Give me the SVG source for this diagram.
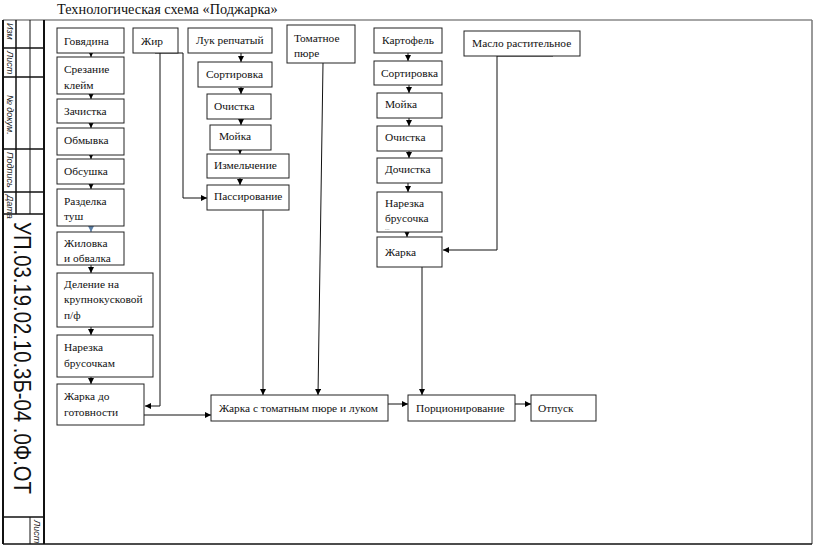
<svg xmlns="http://www.w3.org/2000/svg" width="816" height="546" viewBox="0 0 816 546">
<defs>
<marker id="ah" viewBox="0 0 6 6" refX="6" refY="3" markerWidth="6" markerHeight="6" markerUnits="userSpaceOnUse" orient="auto"><path d="M0,0 L6,3 L0,6 z" fill="#000"/></marker>
<marker id="ahb" viewBox="0 0 6 6" refX="6" refY="3" markerWidth="6" markerHeight="6" markerUnits="userSpaceOnUse" orient="auto"><path d="M0,0 L6,3 L0,6 z" fill="#5b7fa6"/></marker>
<style>
.n rect{fill:#fff;stroke:#222;stroke-width:1}
.n text,.t{font-family:"Liberation Serif","Times New Roman",serif;font-size:11.4px;fill:#111}
.c line,.c polyline{fill:none;stroke:#111;stroke-width:1;marker-end:url(#ah)}
.c .p{marker-end:none}
.f{stroke:#111;fill:none}
.s{font-family:"Liberation Sans",Arial,sans-serif;font-style:italic;font-size:9px;fill:#222}
</style>
</defs>
<rect width="816" height="546" fill="#fff"/>
<text class="t" x="57" y="14" style="font-size:14.3px">Технологическая схема «Поджарка»</text>
<g id="frame">
<line class="f" x1="3" y1="20" x2="812" y2="20" style="stroke:#888;stroke-width:1.5"/>
<line class="f" x1="812" y1="20" x2="812" y2="544" style="stroke:#777;stroke-width:1.5"/>
<line class="f" x1="3" y1="544" x2="812" y2="544" style="stroke-width:1.5"/>
<line class="f" x1="3" y1="20" x2="3" y2="544" style="stroke-width:2"/>
<line class="f" x1="44" y1="20" x2="44" y2="544" style="stroke-width:2"/>
<line class="f" x1="16" y1="20" x2="16" y2="214" style="stroke-width:1.5"/>
<line class="f" x1="30" y1="20" x2="30" y2="214" style="stroke-width:1"/>
<line class="f" x1="30" y1="517" x2="30" y2="544" style="stroke-width:1"/>
<line class="f" x1="3" y1="48" x2="44" y2="48" style="stroke-width:1.5"/>
<line class="f" x1="3" y1="77" x2="44" y2="77" style="stroke-width:1.5"/>
<line class="f" x1="3" y1="149" x2="44" y2="149" style="stroke-width:1.5"/>
<line class="f" x1="3" y1="192" x2="44" y2="192" style="stroke-width:1.5"/>
<line class="f" x1="3" y1="214" x2="44" y2="214" style="stroke-width:1.5"/>
<line class="f" x1="3" y1="517" x2="44" y2="517" style="stroke-width:1.5"/>
<text class="s" transform="translate(7,23) rotate(90)">Изм</text>
<text class="s" transform="translate(7,51) rotate(90)">Лист</text>
<text class="s" transform="translate(7,95) rotate(90)">№ докум.</text>
<text class="s" transform="translate(7,152) rotate(90)">Подпись</text>
<text class="s" transform="translate(7,195) rotate(90)">Дата</text>
<text class="s" transform="translate(34,520) rotate(90)">Лист</text>
<text transform="translate(14,222) rotate(90)" font-family="Liberation Sans, Arial, sans-serif" font-size="24" fill="#111" textLength="272" lengthAdjust="spacingAndGlyphs">УП.03.19.02.10.3Б-04 .0Ф.ОТ</text>
</g>
<g class="c" id="connectors">
<line x1="91" y1="53" x2="91" y2="57"/>
<line x1="91" y1="94" x2="91" y2="99"/>
<line x1="91" y1="123" x2="91" y2="128"/>
<line x1="91" y1="155" x2="91" y2="159"/>
<line x1="91" y1="184" x2="91" y2="189"/>
<line x1="91" y1="226" x2="91" y2="232" style="stroke:#5b7fa6;marker-end:url(#ahb)"/>
<line x1="91" y1="265" x2="91" y2="273"/>
<line x1="91" y1="327" x2="91" y2="335"/>
<line x1="91" y1="377" x2="91" y2="384"/>
<line class="p" x1="155" y1="53" x2="183" y2="53"/>
<polyline points="160,53 160,406 145,406"/>
<polyline points="183,53 183,198 207,198"/>
<line x1="241" y1="53" x2="241" y2="62"/>
<line x1="241" y1="87" x2="241" y2="94"/>
<line x1="241" y1="119" x2="241" y2="125"/>
<line x1="240" y1="150" x2="240" y2="154"/>
<line x1="240" y1="178" x2="240" y2="185"/>
<line x1="263" y1="210" x2="263" y2="395"/>
<line x1="323" y1="63" x2="318" y2="395"/>
<line x1="408" y1="53" x2="408" y2="61"/>
<line x1="409" y1="85" x2="409" y2="93"/>
<line x1="409" y1="118" x2="409" y2="126"/>
<line x1="409" y1="151" x2="409" y2="158"/>
<line x1="408" y1="183" x2="408" y2="192"/>
<line x1="407" y1="232" x2="407" y2="237"/>
<line class="p" x1="497" y1="56" x2="553" y2="56"/>
<polyline points="497,56 497,250 443,250"/>
<line x1="422" y1="267" x2="422" y2="395"/>
<line x1="144" y1="415" x2="211" y2="415"/>
<line x1="388" y1="404" x2="408" y2="404"/>
<line x1="515" y1="404" x2="531" y2="404"/>
</g>
<g class="n" id="n-govyadina"><rect x="57" y="28" width="67" height="25"/><text x="64" y="45">Говядина</text></g>
<g class="n" id="n-srezanie"><rect x="57" y="57" width="67" height="37"/><text x="64" y="73">Срезание</text><text x="64" y="89">клейм</text></g>
<g class="n" id="n-zachistka"><rect x="57" y="99" width="67" height="24"/><text x="64" y="115">Зачистка</text></g>
<g class="n" id="n-obmyvka"><rect x="57" y="128" width="67" height="27"/><text x="64" y="144">Обмывка</text></g>
<g class="n" id="n-obsushka"><rect x="57" y="159" width="67" height="25"/><text x="64" y="175">Обсушка</text></g>
<g class="n" id="n-razdelka"><rect x="57" y="189" width="67" height="37"/><text x="64" y="205">Разделка</text><text x="64" y="220">туш</text></g>
<g class="n" id="n-zhilovka"><rect x="57" y="232" width="67" height="33"/><text x="64" y="247">Жиловка</text><text x="64" y="262">и обвалка</text></g>
<g class="n" id="n-delenie"><rect x="57" y="273" width="96" height="54"/><text x="64" y="288">Деление на</text><text x="64" y="303">крупнокусковой</text><text x="64" y="319">п/ф</text></g>
<g class="n" id="n-narezka1"><rect x="57" y="335" width="96" height="42"/><text x="64" y="351">Нарезка</text><text x="64" y="367">брусочкам</text></g>
<g class="n" id="n-zharka1"><rect x="57" y="384" width="87" height="41"/><text x="64" y="400">Жарка до</text><text x="64" y="416">готовности</text></g>
<g class="n" id="n-zhir"><rect x="133" y="28" width="45" height="25"/><text x="141" y="45">Жир</text></g>
<g class="n" id="n-luk"><rect x="188" y="28" width="84" height="25"/><text x="196" y="44">Лук репчатый</text></g>
<g class="n" id="n-sort1"><rect x="198" y="62" width="74" height="25"/><text x="206" y="78">Сортировка</text></g>
<g class="n" id="n-ochistka1"><rect x="207" y="94" width="64" height="25"/><text x="214" y="110">Очистка</text></g>
<g class="n" id="n-moyka1"><rect x="210" y="125" width="61" height="25"/><text x="219" y="140">Мойка</text></g>
<g class="n" id="n-izmel"><rect x="207" y="154" width="82" height="24"/><text x="214" y="169">Измельчение</text></g>
<g class="n" id="n-passir"><rect x="207" y="185" width="82" height="25"/><text x="214" y="200">Пассирование</text></g>
<g class="n" id="n-tomat"><rect x="287" y="25" width="68" height="38"/><text x="294" y="42">Томатное</text><text x="294" y="57">пюре</text></g>
<g class="n" id="n-kartofel"><rect x="374" y="28" width="68" height="25"/><text x="382" y="44">Картофель</text></g>
<g class="n" id="n-sort2"><rect x="374" y="61" width="68" height="24"/><text x="381" y="77">Сортировка</text></g>
<g class="n" id="n-moyka2"><rect x="377" y="93" width="65" height="25"/><text x="385" y="108">Мойка</text></g>
<g class="n" id="n-ochistka2"><rect x="377" y="126" width="65" height="25"/><text x="385" y="141">Очистка</text></g>
<g class="n" id="n-dochistka"><rect x="377" y="158" width="65" height="25"/><text x="385" y="173">Дочистка</text></g>
<g class="n" id="n-narezka2"><rect x="377" y="192" width="65" height="40"/><text x="385" y="207">Нарезка</text><text x="385" y="222">брусочка</text><text x="385" y="230" style="font-size:6px;fill:#888">...</text></g>
<g class="n" id="n-zharka2"><rect x="377" y="237" width="65" height="30"/><text x="385" y="256">Жарка</text></g>
<g class="n" id="n-maslo"><rect x="464" y="31" width="116" height="25"/><text x="472" y="47">Масло растительное</text></g>
<g class="n" id="n-zharka3"><rect x="211" y="395" width="177" height="26"/><text x="219" y="412">Жарка с томатным пюре и луком</text></g>
<g class="n" id="n-porc"><rect x="408" y="395" width="107" height="26"/><text x="416" y="412">Порционирование</text></g>
<g class="n" id="n-otpusk"><rect x="531" y="395" width="65" height="26"/><text x="538" y="412">Отпуск</text></g>
</svg>
